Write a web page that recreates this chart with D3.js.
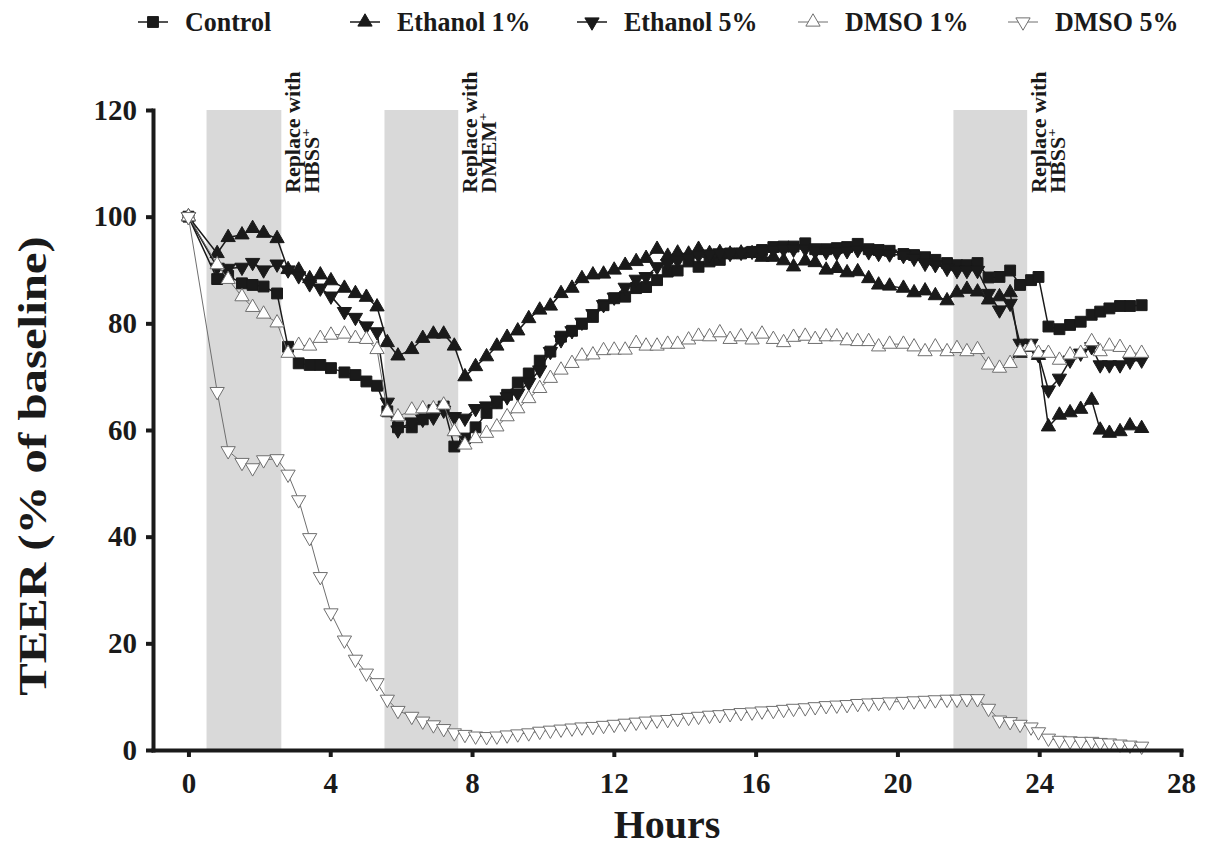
<!DOCTYPE html>
<html>
<head>
<meta charset="utf-8">
<script src="https://cdn.jsdelivr.net/npm/d3@7"></script>
<style>
  body { margin: 0; background: #fff; }
  text { font-family: "Liberation Serif", "Times New Roman", serif; font-weight: bold; fill: #1a1a1a; }
</style>
</head>
<body>
<svg id="chart" width="1206" height="849"></svg>
<script>
// sampling times (hours), shared by every series
const hours = [0, 0.81, 1.12, 1.51, 1.81, 2.12, 2.5, 2.81, 3.11, 3.42,
  3.72, 4.02, 4.4, 4.71, 5.02, 5.32, 5.61, 5.91, 6.3, 6.61,
  6.91, 7.2, 7.5, 7.8, 8.1, 8.41, 8.7, 8.99, 9.29, 9.6,
  9.91, 10.21, 10.51, 10.82, 11.1, 11.41, 11.71, 12.01, 12.32, 12.63,
  12.91, 13.22, 13.52, 13.8, 14.11, 14.39, 14.7, 14.99, 15.28, 15.59,
  15.9, 16.18, 16.5, 16.79, 17.07, 17.4, 17.68, 17.99, 18.29, 18.58,
  18.88, 19.19, 19.47, 19.78, 20.17, 20.47, 20.78, 21.07, 21.4, 21.68,
  21.96, 22.26, 22.57, 22.88, 23.18, 23.46, 23.77, 23.98, 24.26, 24.57,
  24.87, 25.17, 25.48, 25.72, 25.98, 26.28, 26.56, 26.89];

const control = [100, 88.3, 88.9, 87.5, 87.2, 86.9, 85.6, 75.6, 72.5, 72.2,
  72.2, 71.6, 70.8, 70.3, 69.1, 68.3, 63.5, 60.5, 60.5, 62,
  63.7, 64.4, 56.9, 58.4, 60.5, 63.2, 65, 66.6, 68.9, 70.6,
  73, 74.7, 77.5, 78.6, 79.9, 81.2, 83.4, 84.7, 85, 86.6,
  86.8, 88.1, 89.7, 89.9, 91.6, 90.6, 91.6, 91.9, 93.1, 93.1,
  93.4, 93.75, 94.3, 94.4, 94.4, 95, 93.9, 93.9, 94.1, 94.3,
  94.9, 93.9, 93.75, 93.6, 93, 92.8, 92.4, 91.9, 91.3, 90.9,
  90.9, 91.3, 88.6, 88.7, 89.9, 87.2, 88.1, 88.7, 79.4, 78.9,
  79.7, 80.3, 81.6, 82.2, 82.8, 83.25, 83.25, 83.4];

const ethanol1 = [100, 93.1, 96.1, 96.6, 97.8, 96.9, 95.9, 90.1, 90, 88.4,
  89.1, 88, 86.6, 85.6, 84.9, 83.1, 76.4, 73.9, 75.1, 77.2,
  78, 78, 75.75, 70, 71.9, 73.75, 75.75, 77.4, 78.6, 80.9,
  82.5, 83.25, 85.6, 86.6, 88.4, 89.1, 89.25, 90, 90.9, 91.6,
  92.2, 93.9, 92.6, 93.2, 93, 93.9, 93.1, 93.3, 93, 93.2,
  93.1, 92.4, 92.4, 91.75, 90.6, 91.7, 91.4, 90, 90.3, 89.5,
  89.7, 88.4, 87.2, 87, 86.6, 85.75, 86.1, 85.2, 84.25, 85.75,
  86.4, 85.9, 84.4, 85, 85.75, 74.4, 75.5, 74, 60.6, 62.8,
  63.25, 63.9, 65.6, 60, 59.4, 59.7, 60.8, 60.3];

const ethanol5 = [100, 90.5, 90.3, 90.5, 91.4, 90, 91.1, 90, 88.9, 87.4,
  86.6, 85.1, 82.2, 81.1, 79.5, 78.4, 65.2, 60, 61.5, 62,
  62.4, 63.7, 62.5, 62.2, 64, 64.5, 65.6, 66.2, 66.9, 68.9,
  71.25, 74.7, 76.9, 78.6, 80.2, 81.8, 83.5, 84.9, 86.75, 88.25,
  88.75, 90.6, 91.2, 91.8, 92.3, 92.8, 93, 93.2, 93.1, 93.3,
  93.5, 93.6, 93.8, 93.9, 93.9, 94, 93.5, 93.4, 93.3, 93.6,
  93.8, 93.4, 93.1, 93, 92.7, 92.2, 91.25, 91, 90.3, 89.9,
  89.9, 89.9, 85.6, 82.5, 83.75, 76.25, 76.25, 74.1, 67.5, 69.7,
  73.1, 74.4, 75.6, 72.2, 72.2, 72.2, 72.9, 73.1];

const dmso1 = [100, 91, 88.25, 85, 83, 81.75, 80.1, 74.4, 75.9, 75.75,
  77.2, 77.8, 78, 77.2, 77, 75.1, 63.4, 62.5, 63.75, 64,
  64, 64.7, 59.7, 57.2, 58.4, 59.4, 60.6, 62.5, 64, 65.9,
  67.8, 69.7, 71.25, 72.5, 73.9, 74.1, 74.9, 75, 75, 76.25,
  75.75, 75.75, 76.1, 76.1, 76.9, 77.6, 77.5, 78.25, 77, 77.5,
  76.9, 78, 77, 76.4, 77.4, 77.6, 77, 77.5, 77.5, 76.75,
  76.6, 76.6, 75.6, 76.1, 76.1, 75.6, 74.7, 75.6, 74.7, 75.3,
  74.7, 75.1, 72.2, 71.6, 72.5, 74.7, 75.6, 74.4, 74.4, 73.1,
  74.1, 74.4, 76.6, 74.7, 75.75, 75.5, 74.4, 74.4];

const dmso5 = [100, 67.2, 56.1, 53.9, 52.9, 54.4, 54.6, 51.7, 46.9, 39.8,
  32.5, 25.7, 20.6, 17, 14.4, 12.6, 9.5, 7.4, 6.3, 5.4,
  4.7, 4, 3.2, 2.9, 2.6, 2.5, 2.6, 2.8, 3, 3.2,
  3.5, 3.7, 3.9, 4.1, 4.3, 4.4, 4.6, 4.8, 5, 5.2,
  5.4, 5.6, 5.7, 5.9, 6.1, 6.3, 6.5, 6.6, 6.8, 7,
  7.1, 7.3, 7.4, 7.6, 7.8, 7.9, 8.1, 8.3, 8.4, 8.5,
  8.7, 8.8, 8.9, 9, 9.1, 9.2, 9.3, 9.4, 9.5, 9.5,
  9.6, 9.6, 7.8, 5.6, 5.3, 4.8, 4.3, 3.4, 2.2, 1.8,
  1.7, 1.6, 1.6, 1.4, 1.3, 1.1, 0.9, 0.7];

// media change periods (hours) and their labels
const shadeStart = [0.51, 5.53, 21.58];
const shadeEnd = [2.62, 7.61, 23.66];
const shadeLabel = ["HBSS", "DMEM", "HBSS"];

const xTicks = [0, 4, 8, 12, 16, 20, 24, 28];
const yTicks = [0, 20, 40, 60, 80, 100, 120];

const BLACK = "#1a1a1a";
const GREY = "#6f6f6f";

const series = [
  { name: "Control", values: control, shape: "square", fill: BLACK, stroke: BLACK, line: BLACK, lw: 1.5 },
  { name: "Ethanol 1%", values: ethanol1, shape: "up", fill: BLACK, stroke: BLACK, line: BLACK, lw: 1.5 },
  { name: "Ethanol 5%", values: ethanol5, shape: "down", fill: BLACK, stroke: BLACK, line: BLACK, lw: 1.5 },
  { name: "DMSO 1%", values: dmso1, shape: "up", fill: "#fff", stroke: GREY, line: GREY, lw: 1 },
  { name: "DMSO 5%", values: dmso5, shape: "down", fill: "#fff", stroke: GREY, line: GREY, lw: 1 }
];

const svg = d3.select("#chart");

const x = d3.scaleLinear([-1, 28], [153, 1181]);
const y = d3.scaleLinear([0, 120], [750, 110]);

// marker shapes
function markerPath(shape) {
  if (shape === "square") return d3.symbol(d3.symbolSquare, 118)();
  return d3.symbol(d3.symbolTriangle, 88)();
}
function markerTransform(shape, px, py) {
  if (shape === "down") return `translate(${px},${py}) rotate(180)`;
  return `translate(${px},${py})`;
}

// grey shaded periods
svg.append("g").selectAll("rect")
  .data(shadeStart)
  .join("rect")
  .attr("x", (d) => x(d))
  .attr("y", y(120))
  .attr("width", (d, i) => x(shadeEnd[i]) - x(d))
  .attr("height", y(0) - y(120))
  .attr("fill", "#d9d9d9");

// "Replace with ..." notes, rotated (text is drawn a bit tall like the original)
const notes = svg.append("g");
shadeEnd.forEach((h, i) => {
  const px = x(h);
  notes.append("text")
    .attr("transform", `translate(${px + 19},193) rotate(-90) scale(1.1,1)`)
    .attr("font-size", 20)
    .text("Replace with");
  const t2 = notes.append("text")
    .attr("transform", `translate(${px + 38},193) rotate(-90) scale(1.1,1)`)
    .attr("font-size", 20);
  t2.append("tspan").text(shadeLabel[i]);
  t2.append("tspan").attr("font-size", 13).attr("dy", -9).text("+");
});

// series lines and markers
const line = d3.line()
  .x((d, i) => x(hours[i]))
  .y((d) => y(d));

series.forEach((s) => {
  const g = svg.append("g");
  g.append("path")
    .attr("d", line(s.values))
    .attr("fill", "none")
    .attr("stroke", s.line)
    .attr("stroke-width", s.lw);
  g.selectAll("path.m")
    .data(s.values)
    .join("path")
    .attr("class", "m")
    .attr("d", markerPath(s.shape))
    .attr("transform", (d, i) => markerTransform(s.shape, x(hours[i]), y(d)))
    .attr("fill", s.fill)
    .attr("stroke", s.stroke)
    .attr("stroke-width", 1);
});

// axes
const xAxis = svg.append("g")
  .attr("transform", `translate(0,${y(0)})`)
  .call(d3.axisBottom(x).tickValues(xTicks).tickSize(7).tickSizeOuter(0).tickPadding(15));
const yAxis = svg.append("g")
  .attr("transform", `translate(${x(-1)},0)`)
  .call(d3.axisLeft(y).tickValues(yTicks).tickSize(7).tickSizeOuter(0).tickPadding(9));

[xAxis, yAxis].forEach((a) => {
  a.select(".domain").attr("stroke", BLACK).attr("stroke-width", 4).attr("stroke-linecap", "square");
  a.selectAll(".tick line").attr("stroke", BLACK).attr("stroke-width", 4);
  a.selectAll(".tick text")
    .attr("font-size", 29)
    .attr("fill", BLACK);
});

// axis titles
svg.append("text")
  .attr("x", 667)
  .attr("y", 838)
  .attr("text-anchor", "middle")
  .attr("font-size", 40)
  .text("Hours");

svg.append("text")
  .attr("transform", "translate(46,466) rotate(-90) scale(1.22,1)")
  .attr("text-anchor", "middle")
  .attr("font-size", 40)
  .text("TEER (% of baseline)");

// legend across the top
const legendX = [138, 350, 577, 798, 1008];
const legend = svg.append("g");
series.forEach((s, i) => {
  const lx = legendX[i];
  legend.append("line")
    .attr("x1", lx).attr("x2", lx + 30)
    .attr("y1", 22).attr("y2", 22)
    .attr("stroke", s.line)
    .attr("stroke-width", s.lw);
  legend.append("path")
    .attr("d", markerPath(s.shape))
    .attr("transform", markerTransform(s.shape, lx + 15, 22))
    .attr("fill", s.fill)
    .attr("stroke", s.stroke)
    .attr("stroke-width", 1);
  legend.append("text")
    .attr("transform", `translate(${lx + 47},31) scale(1,1.08)`)
    .attr("font-size", 26)
    .text(s.name);
});
</script>
</body>
</html>
